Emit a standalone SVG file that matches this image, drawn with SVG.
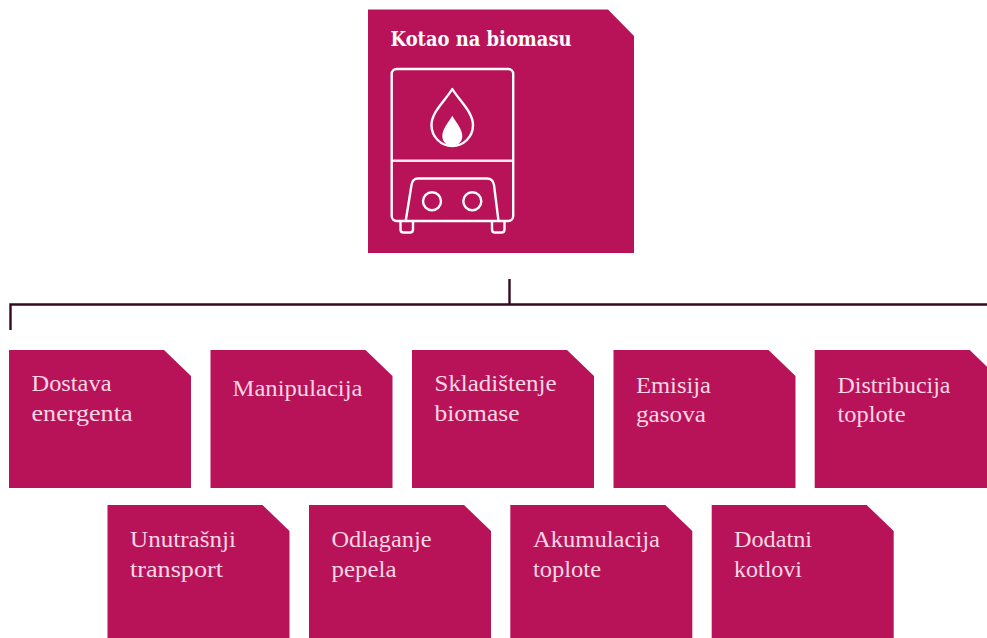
<svg xmlns="http://www.w3.org/2000/svg" width="987" height="638" viewBox="0 0 987 638">
<style>
.box{fill:#b81358}
.lbl{font-family:"Liberation Serif","DejaVu Serif",serif;font-size:24px;fill:#f8d6e5}
.ttl{font-family:"DejaVu Serif","Liberation Serif",serif;font-size:20px;font-weight:700;fill:#fff}
.ico{fill:none;stroke:#fff;stroke-width:2.4;stroke-linejoin:round}
.con{fill:none;stroke:#35091f;stroke-width:2.4}
</style>
<defs>
<path id="card" class="box" d="M0 0H155L182 26V138H0Z"/>
</defs>
<rect width="987" height="638" fill="#fff"/>
<g id="connectors">
<path class="con" d="M509.500 279V304.500"/>
<path class="con" d="M10.500 330V304.500H987"/>
</g>
<g id="node-kotao">
<path class="box" d="M368 9.500H608L634 36V253H368Z"/>
<text class="ttl" x="390.500" y="46" textLength="181" lengthAdjust="spacingAndGlyphs">Kotao na biomasu</text>
<rect class="ico" x="391.700" y="69" width="121.500" height="152" rx="5"/>
<path class="ico" stroke-opacity="0.9" d="M391.700 160.700H513.200"/>
<path class="ico" d="M405.700 221L411.500 185Q412.500 178.500 418 178.500H487Q493 178.500 494 185L498.500 221"/>
<circle class="ico" cx="432" cy="201.300" r="9"/>
<circle class="ico" cx="472.300" cy="201.300" r="9"/>
<path class="ico" d="M400.500 221V229.500Q400.500 232.500 403.500 232.500H410Q413 232.500 413 229.500V221"/>
<path class="ico" d="M492 221V229.500Q492 232.500 495 232.500H501.500Q504.500 232.500 504.500 229.500V221"/>
<path class="ico" d="M452.300 89C445 101 431.500 112 431.500 125C431.500 137 441 146 452.300 146C463.500 146 473 137 473 125C473 112 459.500 101 452.300 89Z"/>
<path d="M452.300 115.700C448 123 442.300 129 442.300 136C442.300 141.500 446 145.500 452.300 145.500C458.500 145.500 462.300 141.500 462.300 136C462.300 129 456.500 123 452.300 115.700Z" fill="#fff"/>
</g>
<g id="node-dostava"><use href="#card" x="9" y="350"/><text class="lbl" x="31.500" y="391" textLength="80" lengthAdjust="spacingAndGlyphs">Dostava</text><text class="lbl" x="31.500" y="421" textLength="101" lengthAdjust="spacingAndGlyphs">energenta</text></g>
<g id="node-manipulacija"><use href="#card" x="210.500" y="350"/><text class="lbl" x="232.500" y="396" textLength="130" lengthAdjust="spacingAndGlyphs">Manipulacija</text></g>
<g id="node-skladistenje"><use href="#card" x="412" y="350"/><text class="lbl" x="434.500" y="391" textLength="122" lengthAdjust="spacingAndGlyphs">Skladištenje</text><text class="lbl" x="434.500" y="421" textLength="85" lengthAdjust="spacingAndGlyphs">biomase</text></g>
<g id="node-emisija"><use href="#card" x="613.500" y="350"/><text class="lbl" x="636" y="393" textLength="75" lengthAdjust="spacingAndGlyphs">Emisija</text><text class="lbl" x="636" y="422" textLength="70" lengthAdjust="spacingAndGlyphs">gasova</text></g>
<g id="node-distribucija"><use href="#card" x="814.700" y="350"/><text class="lbl" x="837.500" y="393" textLength="113" lengthAdjust="spacingAndGlyphs">Distribucija</text><text class="lbl" x="837.500" y="422" textLength="68" lengthAdjust="spacingAndGlyphs">toplote</text></g>
<g id="node-unutrasnji"><use href="#card" x="107.500" y="505"/><text class="lbl" x="130" y="547" textLength="106" lengthAdjust="spacingAndGlyphs">Unutrašnji</text><text class="lbl" x="130" y="577" textLength="93" lengthAdjust="spacingAndGlyphs">transport</text></g>
<g id="node-odlaganje"><use href="#card" x="309" y="505"/><text class="lbl" x="331.500" y="547" textLength="100" lengthAdjust="spacingAndGlyphs">Odlaganje</text><text class="lbl" x="331.500" y="577" textLength="65" lengthAdjust="spacingAndGlyphs">pepela</text></g>
<g id="node-akumulacija"><use href="#card" x="510.300" y="505"/><text class="lbl" x="533" y="547" textLength="127" lengthAdjust="spacingAndGlyphs">Akumulacija</text><text class="lbl" x="533" y="577" textLength="68" lengthAdjust="spacingAndGlyphs">toplote</text></g>
<g id="node-dodatni"><use href="#card" x="711.700" y="505"/><text class="lbl" x="734" y="547" textLength="78" lengthAdjust="spacingAndGlyphs">Dodatni</text><text class="lbl" x="734" y="577" textLength="68" lengthAdjust="spacingAndGlyphs">kotlovi</text></g>
</svg>
